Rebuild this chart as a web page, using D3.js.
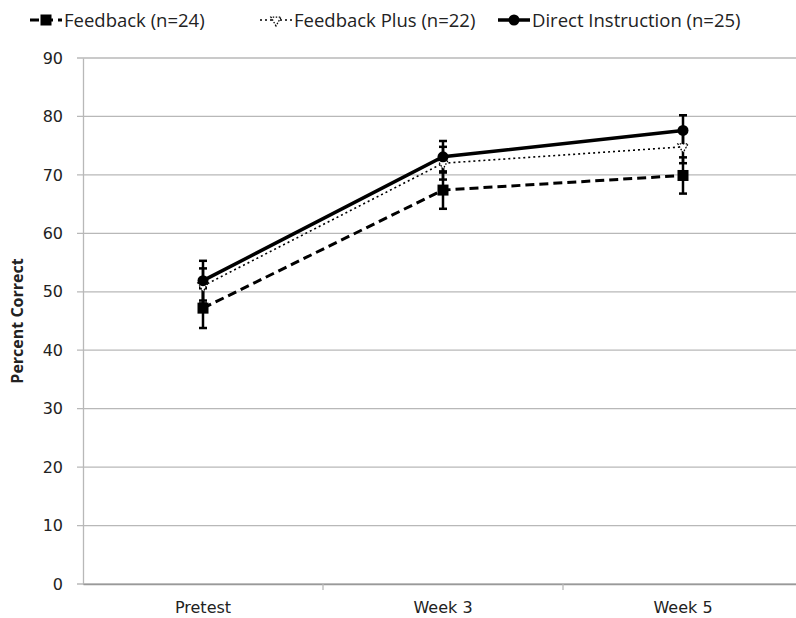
<!DOCTYPE html>
<html>
<head>
<meta charset="utf-8">
<script src="https://cdn.jsdelivr.net/npm/d3@7"></script>
<style>
  body { margin: 0; background: #fff; }
  svg { display: block; }
</style>
</head>
<body>
<svg id="chart" width="796" height="618"></svg>
<script>
'use strict';

// data
const categories = ["Pretest", "Week 3", "Week 5"];
const yTicks = [0, 10, 20, 30, 40, 50, 60, 70, 80, 90];

const feedback = [47.2, 67.4, 69.9];
const feedbackErr = [3.4, 3.2, 3.1];
const feedbackPlus = [51.0, 72.0, 74.8];
const feedbackPlusErr = [3.0, 2.8, 2.8];
const directInstr = [51.9, 73.1, 77.6];
const directInstrErr = [3.4, 2.7, 2.6];

const seriesNames = ["Feedback (n=24)", "Feedback Plus (n=22)", "Direct Instruction (n=25)"];

let series = [
	{name: seriesNames[0], values: feedback, err: feedbackErr, dash: "9,5", width: 3, marker: "square"},
	{name: seriesNames[1], values: feedbackPlus, err: feedbackPlusErr, dash: "2,3", width: 1.6, marker: "triangle"},
	{name: seriesNames[2], values: directInstr, err: directInstrErr, dash: null, width: 3.5, marker: "circle"}
];

let svg = d3.select("#chart"),
	margin = {top: 58, right: -7, bottom: 34, left: 83},
	width = +svg.attr("width") - margin.left - margin.right,
	height = +svg.attr("height") - margin.top - margin.bottom,
	g = svg.append("g").attr("transform", "translate(" + margin.left + "," + margin.top + ")");

let x = d3.scaleBand().domain(categories).range([0, width]);
let y = d3.scaleLinear().domain([0, 90]).range([height, 0]);

// gridlines
g.append("g")
	.selectAll("line")
	.data(yTicks)
	.enter().append("line")
	.attr("x1", -6)
	.attr("x2", width)
	.attr("y1", function (d) { return y(d); })
	.attr("y2", function (d) { return y(d); })
	.attr("stroke", "#b8b8b8")
	.attr("stroke-width", 1.3);

// y axis
let yAxis = g.append("g")
	.call(d3.axisLeft(y).tickValues(yTicks).tickSize(0).tickPadding(20));
yAxis.select(".domain").attr("stroke", "#b8b8b8").attr("stroke-width", 1.3);
yAxis.selectAll("text")
	.attr("font-family", "DejaVu Sans, sans-serif")
	.attr("font-size", 16)
	.attr("fill", "#222");

// x axis
let xAxis = g.append("g")
	.attr("transform", "translate(0," + height + ")")
	.call(d3.axisBottom(x).tickSize(0).tickPadding(18));
xAxis.select(".domain").attr("stroke", "#999").attr("stroke-width", 1.3);
xAxis.selectAll("text")
	.attr("font-family", "DejaVu Sans, sans-serif")
	.attr("font-size", 16)
	.attr("fill", "#222");
// category tick marks on band edges
xAxis.append("g")
	.selectAll("line")
	.data(categories.slice(1))
	.enter().append("line")
	.attr("x1", function (d) { return x(d); })
	.attr("x2", function (d) { return x(d); })
	.attr("y1", 0)
	.attr("y2", 6)
	.attr("stroke", "#b8b8b8")
	.attr("stroke-width", 1.3);

// y title
svg.append("text")
	.attr("transform", "translate(23," + (margin.top + y(45)) + ") rotate(-90)")
	.attr("text-anchor", "middle")
	.attr("font-family", "Open Sans, sans-serif")
	.attr("font-weight", "bold")
	.attr("font-size", 16)
	.attr("fill", "#222")
	.text("Percent Correct");

let cx = function (i) { return x(categories[i]) + x.bandwidth() / 2; };

function drawMarker(sel, type, px, py) {
	if (type === "square") {
		sel.append("rect")
			.attr("x", px - 5.5).attr("y", py - 5.5)
			.attr("width", 11).attr("height", 11)
			.attr("fill", "#000");
	} else if (type === "circle") {
		sel.append("circle")
			.attr("cx", px).attr("cy", py).attr("r", 5.5)
			.attr("fill", "#000");
	} else {
		sel.append("path")
			.attr("d", d3.symbol().type(d3.symbolTriangle).size(45)())
			.attr("transform", "translate(" + px + "," + py + ") rotate(180)")
			.attr("fill", "#fff")
			.attr("stroke", "#000")
			.attr("stroke-dasharray", "1.5,1.5")
			.attr("stroke-width", 1.3);
	}
}

let line = d3.line()
	.x(function (d, i) { return cx(i); })
	.y(function (d) { return y(d); });

// error bars
series.forEach(function (s) {
	s.values.forEach(function (v, i) {
		let eg = g.append("g").attr("stroke", "#000").attr("stroke-width", 2.5);
		eg.append("line")
			.attr("x1", cx(i)).attr("x2", cx(i))
			.attr("y1", y(v - s.err[i])).attr("y2", y(v + s.err[i]));
		[v - s.err[i], v + s.err[i]].forEach(function (e) {
			eg.append("line")
				.attr("x1", cx(i) - 4).attr("x2", cx(i) + 4)
				.attr("y1", y(e)).attr("y2", y(e));
		});
	});
});

// lines and markers
series.forEach(function (s) {
	g.append("path")
		.datum(s.values)
		.attr("d", line)
		.attr("fill", "none")
		.attr("stroke", "#000")
		.attr("stroke-width", s.width)
		.attr("stroke-dasharray", s.dash);
	s.values.forEach(function (v, i) {
		drawMarker(g, s.marker, cx(i), y(v));
	});
});

// legend
let legendX = [30, 260, 498];
let lg = svg.append("g");
series.forEach(function (s, i) {
	let lx = legendX[i], ly = 20;
	lg.append("line")
		.attr("x1", lx).attr("x2", lx + 32)
		.attr("y1", ly).attr("y2", ly)
		.attr("stroke", "#000")
		.attr("stroke-width", s.width)
		.attr("stroke-dasharray", s.dash);
	drawMarker(lg, s.marker, lx + 16, ly);
	lg.append("text")
		.attr("x", lx + 34)
		.attr("y", ly + 6.5)
		.attr("font-family", "Open Sans, sans-serif")
		.attr("font-size", 18.5)
		.attr("fill", "#222")
		.text(s.name);
});
</script>
</body>
</html>
